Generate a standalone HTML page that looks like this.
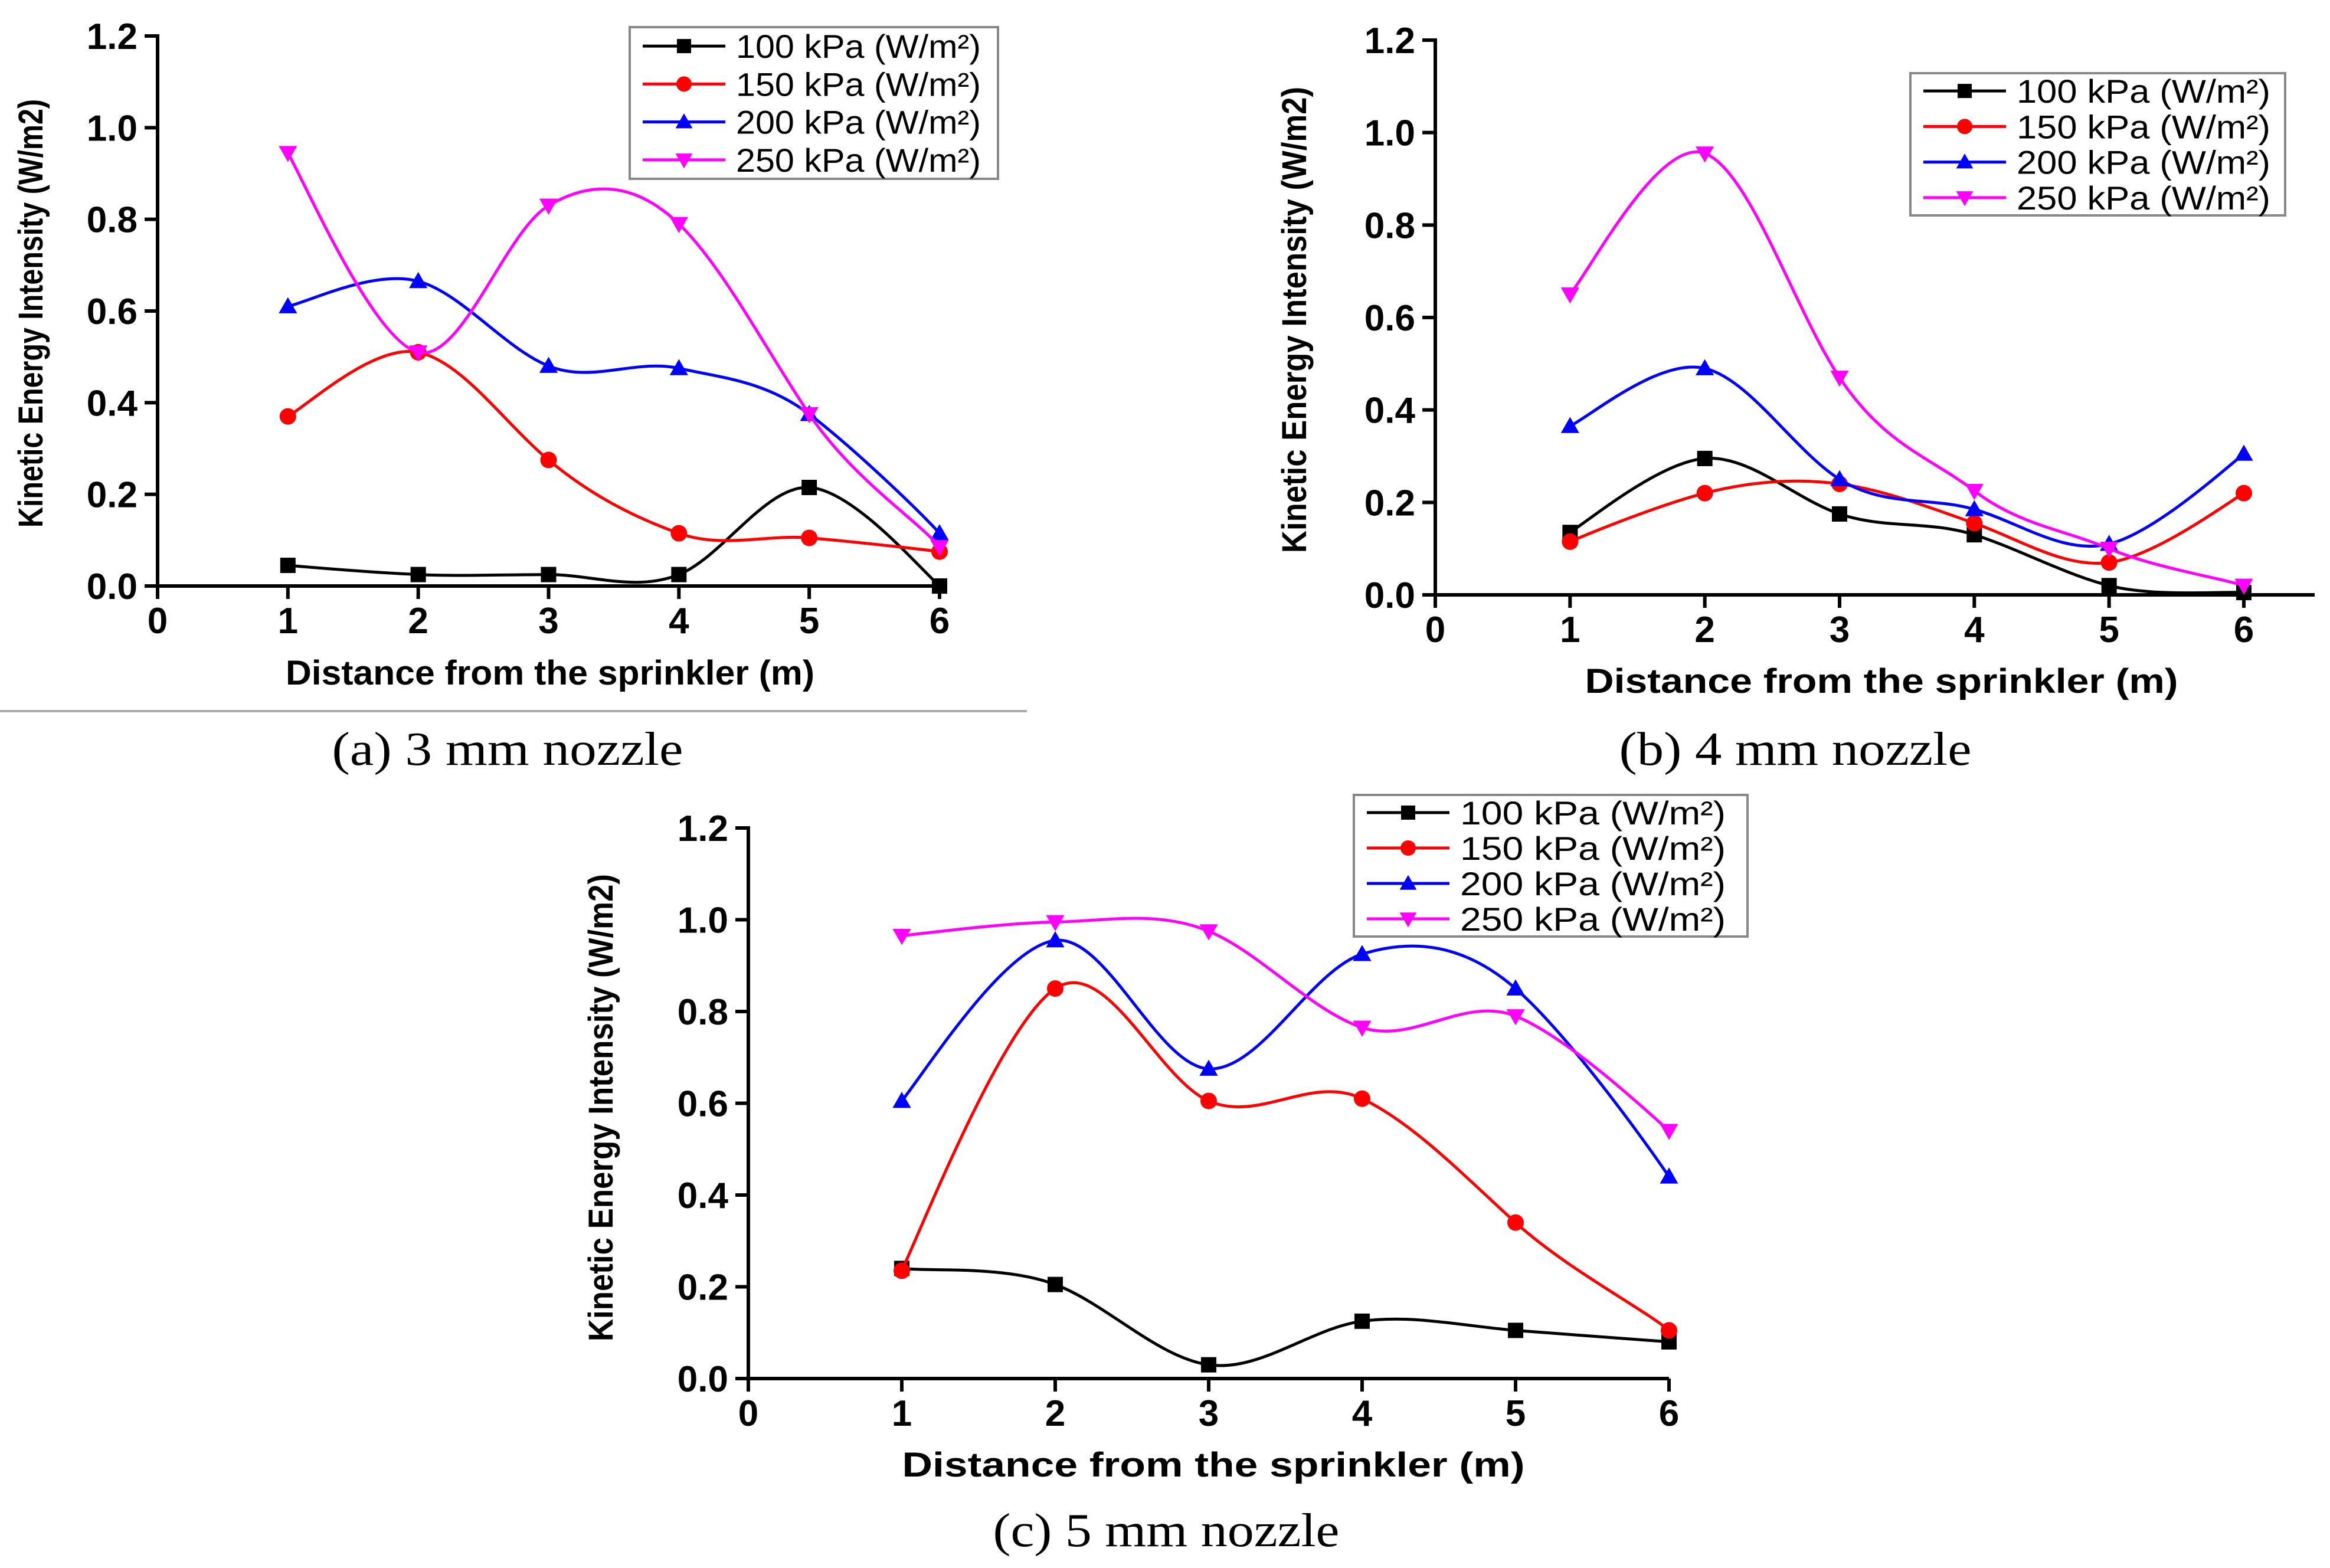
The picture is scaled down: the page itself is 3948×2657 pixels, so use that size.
<!DOCTYPE html>
<html><head><meta charset="utf-8"><style>
html,body{margin:0;padding:0;background:#fff;}
svg{display:block;}
.tk{font-family:"Liberation Sans",sans-serif;font-weight:bold;font-size:62px;fill:#000;}
.ttl{font-family:"Liberation Sans",sans-serif;font-weight:bold;font-size:58px;fill:#000;}
.lg{font-family:"Liberation Sans",sans-serif;font-size:56px;fill:#000;}
.cap{font-family:"Liberation Serif",serif;font-size:80px;fill:#000;}
</style></head><body>
<svg id="fig" xmlns="http://www.w3.org/2000/svg" width="3948" height="2657" viewBox="0 0 3948 2657">
<rect width="3948" height="2657" fill="#fff"/>
<line x1="0" y1="1205" x2="1740" y2="1205" stroke="#aaa" stroke-width="4"/>
</svg>
<script>
const xCategories=[1,2,3,4,5,6];
const xTicks=["0","1","2","3","4","5","6"];
const yTicks=["0.0","0.2","0.4","0.6","0.8","1.0","1.2"];
const seriesNames=["100 kPa (W/m²)","150 kPa (W/m²)","200 kPa (W/m²)","250 kPa (W/m²)"];
const seriesColors=["#000000","#ff0000","#0000ff","#ff00ff"];
const markers=["square","circle","up","down"];
const a100=[0.045,0.025,0.025,0.025,0.215,0.0];
const a150=[0.37,0.51,0.275,0.115,0.105,0.075];
const a200=[0.61,0.665,0.48,0.475,0.375,0.115];
const a250=[0.945,0.51,0.83,0.79,0.375,0.085];
const b100=[0.135,0.295,0.175,0.13,0.02,0.005];
const b150=[0.115,0.22,0.24,0.155,0.07,0.22];
const b200=[0.365,0.49,0.25,0.185,0.11,0.305];
const b250=[0.65,0.955,0.47,0.225,0.10,0.02];
const c100=[0.24,0.205,0.03,0.125,0.105,0.08];
const c150=[0.235,0.85,0.605,0.61,0.34,0.105];
const c200=[0.605,0.955,0.675,0.925,0.85,0.44];
const c250=[0.965,0.995,0.975,0.765,0.79,0.54];

const NS="http://www.w3.org/2000/svg";
const svg=document.getElementById('fig');
function mk(t,at,par){const e=document.createElementNS(NS,t);for(const k in at)e.setAttribute(k,at[k]);(par||svg).appendChild(e);return e;}

function marker(g,type,x,y,col,s){
  let e;
  if(type==="square"){e=mk('rect',{x:x-s/2,y:y-s/2,width:s,height:s,fill:col},g);}
  else if(type==="circle"){e=mk('circle',{cx:x,cy:y,r:s/2+1,fill:col},g);}
  else if(type==="up"){e=mk('polygon',{points:`${x},${y-s*0.6} ${x-s*0.6},${y+s*0.45} ${x+s*0.6},${y+s*0.45}`,fill:col},g);}
  else {e=mk('polygon',{points:`${x},${y+s*0.6} ${x-s*0.6},${y-s*0.45} ${x+s*0.6},${y-s*0.45}`,fill:col},g);}
  return e;
}

function chart(cfg){
  const g=mk('g',{});
  
  
  const X=v=>cfg.x0+(cfg.x6-cfg.x0)*v/6;
  const Y=v=>cfg.y0-(cfg.y0-cfg.y12)*v/1.2;
  const ya=mk('line',{x1:cfg.x0,y1:cfg.y12-3,x2:cfg.x0,y2:cfg.y0+22,stroke:'#000','stroke-width':6},g);
  
  
  const xa=mk('line',{x1:cfg.x0-22,y1:cfg.y0,x2:cfg.xend,y2:cfg.y0,stroke:'#000','stroke-width':6},g);
  
  
  yTicks.forEach((t,i)=>{
    const v=i*0.2,y=Y(v);
    mk('line',{x1:cfg.x0-22,y1:y,x2:cfg.x0,y2:y,stroke:'#000','stroke-width':6},g);
    const tx=mk('text',{x:cfg.x0-34,y:y+22,'text-anchor':'end',class:'tk'},g);
    tx.textContent=t;
    
    
  });
  xTicks.forEach((t,i)=>{
    const x=X(i);
    mk('line',{x1:x,y1:cfg.y0,x2:x,y2:cfg.y0+22,stroke:'#000','stroke-width':6},g);
    const tx=mk('text',{x:x,y:cfg.y0+80,'text-anchor':'middle',class:'tk'},g);
    tx.textContent=t;
    
    
  });
  const yt=mk('text',{x:0,y:0,'text-anchor':'middle',class:'ttl',transform:`translate(${cfg.ytx},${cfg.yty}) rotate(-90)`,textLength:cfg.ytl,lengthAdjust:'spacingAndGlyphs'},g);
  yt.textContent="Kinetic Energy Intensity (W/m2)";
  
  
  const xt=mk('text',{x:cfg.xtx,y:cfg.xty,'text-anchor':'middle',class:'ttl',textLength:cfg.xtl,lengthAdjust:'spacingAndGlyphs'},g);
  xt.textContent="Distance from the sprinkler (m)";
  
  
  const cp=mk('text',{x:cfg.cx,y:cfg.cy,'text-anchor':'middle',class:'cap',textLength:cfg.cl,lengthAdjust:'spacingAndGlyphs'},g);
  cp.textContent=cfg.caption;
  
  
  cfg.series.forEach((vals,si)=>{
    const pts=xCategories.map((c,i)=>[X(c),Y(vals[i])]);
    let d=`M${pts[0][0]},${pts[0][1]}`;
    const k=5;
    for(let i=0;i<pts.length-1;i++){
      const p0=pts[Math.max(0,i-1)],p1=pts[i],p2=pts[i+1],p3=pts[Math.min(pts.length-1,i+2)];
      const c1=[p1[0]+(p2[0]-p0[0])/6,p1[1]+(p2[1]-p0[1])/k];
      const c2=[p2[0]-(p3[0]-p1[0])/6,p2[1]-(p3[1]-p1[1])/k];
      d+=` C${c1[0]},${c1[1]} ${c2[0]},${c2[1]} ${p2[0]},${p2[1]}`;
    }
    const p=mk('path',{d:d,fill:'none',stroke:seriesColors[si],'stroke-width':5},g);
    
    
    pts.forEach(pt=>{
      const m=marker(g,markers[si],pt[0],pt[1],seriesColors[si],26);
      
      
    });
  });
  const lg=mk('g',{},g);
  
  
  const L=cfg.leg;
  mk('rect',{x:L.x,y:L.y,width:L.w,height:L.h,fill:'#fff',stroke:'#888','stroke-width':4},lg);
  const rh=L.h/4;
  seriesNames.forEach((n,si)=>{
    const cy=L.y+rh*(si+0.5);
    const e=mk('g',{},lg);
    
    
    mk('line',{x1:L.x+22,y1:cy,x2:L.x+162,y2:cy,stroke:seriesColors[si],'stroke-width':5},e);
    marker(e,markers[si],L.x+92,cy,seriesColors[si],24);
    const t=mk('text',{x:L.x+180,y:cy+20,class:'lg',textLength:L.tl,lengthAdjust:'spacingAndGlyphs'},e);
    t.textContent=n;
  });
}

chart({name:'chart-3mm',x0:267,x6:1592,xend:1592,y0:993,y12:61,series:[a100,a150,a200,a250],
  ytx:72,yty:531,ytl:726,xtx:932,xty:1160,xtl:896,cx:860,cy:1296,cl:595,caption:'(a) 3 mm nozzle',
  leg:{x:1067,y:46,w:624,h:257,tl:415}});
chart({name:'chart-4mm',x0:2432,x6:3802,xend:3922,y0:1008,y12:68,series:[b100,b150,b200,b250],
  ytx:2213,yty:542,ytl:790,xtx:3188,xty:1174,xtl:1005,cx:3042,cy:1296,cl:597,caption:'(b) 4 mm nozzle',
  leg:{x:3237,y:124,w:635,h:241,tl:430}});
chart({name:'chart-5mm',x0:1268,x6:2828,xend:2828,y0:2336,y12:1403,series:[c100,c150,c200,c250],
  ytx:1038,yty:1877,ytl:792,xtx:2056,xty:2502,xtl:1055,cx:1976,cy:2620,cl:587,caption:'(c) 5 mm nozzle',
  leg:{x:2294,y:1347,w:667,h:240,tl:450}});
</script>
</body></html>
